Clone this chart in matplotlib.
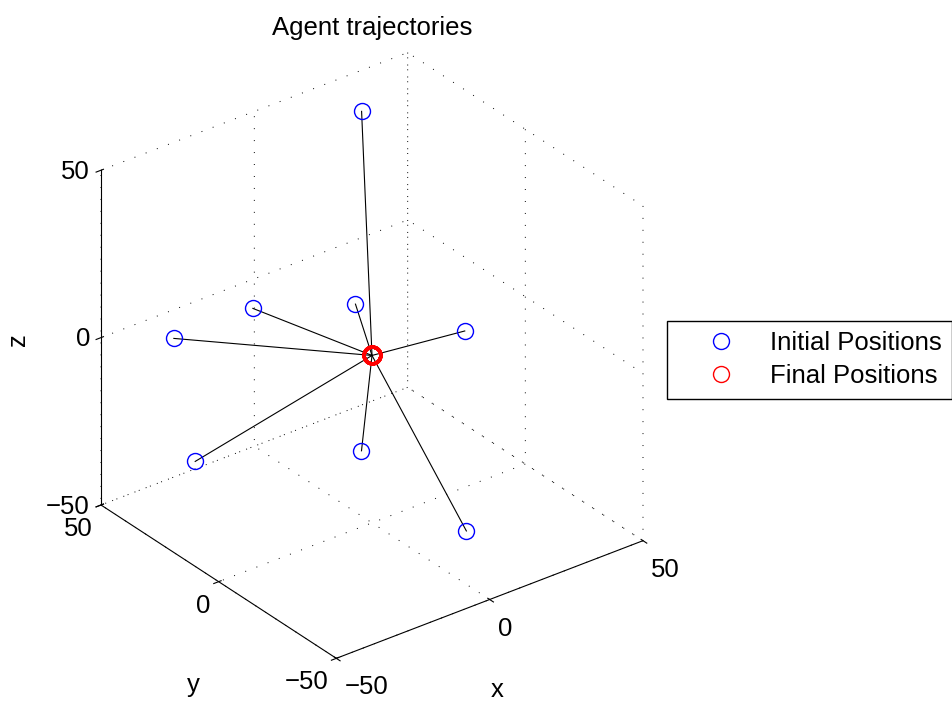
import matplotlib
matplotlib.use('Agg')
import matplotlib.pyplot as plt
from matplotlib.lines import Line2D
from mpl_toolkits.mplot3d import proj3d

# agent start points and where they all end up
init_x = [27.3, -14.9, 7.5, -35.3, 16.2, -43.3, -11.1, 1.0]
init_y = [40.0, 31.2, 16.8, 38.2, -18.3, 18.7, -10.0, -38.8]
init_z = [45.0, 5.0, 5.0, 0.0, 10.0, -25.0, -20.0, -35.0]
final_x = [0, 0, 0, 0, 0, 0, 0, 0]
final_y = [0, 0, 0, 0, 0, 0, 0, 0]
final_z = [0, 0, 0, 0, 0, 0, 0, 0]
ticks = [-50, 0, 50]

W, H = 953, 706

plt.rcParams['font.family'] = ['Liberation Sans', 'DejaVu Sans']
plt.rcParams['font.size'] = 18.5


def to_px(ax, x, y, z):
    xs, ys, _ = proj3d.proj_transform(x, y, z, ax.get_proj())
    return ax.transData.transform((xs, ys))


fig = plt.figure(figsize=(W / 100, H / 100), dpi=100)
ax = fig.add_axes([0.02, 0.02, 0.7, 0.95], projection='3d')
ax.set_proj_type('ortho')
ax.view_init(elev=30, azim=-127.5)
ax.set_box_aspect((1, 1, 1))
ax.computed_zorder = False

for axis in (ax.xaxis, ax.yaxis, ax.zaxis):
    axis.pane.fill = False
    axis.pane.set_edgecolor('none')
    axis._axinfo['grid']['color'] = 'k'
    axis._axinfo['grid']['linewidth'] = 0.7
    axis._axinfo['grid']['linestyle'] = (0, (1, 11.3))
    axis.line.set_linewidth(0.8)
    axis.line.set_color('k')

for i in range(len(init_x)):
    ax.plot([init_x[i], final_x[i]], [init_y[i], final_y[i]], [init_z[i], final_z[i]],
            '-', color='k', lw=0.8, zorder=1)
ax.plot(init_x, init_y, init_z, 'o', ls='none', mfc='none', mec='b',
        ms=11.5, mew=1.0, zorder=2)
ax.plot(final_x, final_y, final_z, 'o', ls='none', mfc='none', mec='r',
        ms=12, mew=2.5, zorder=3)

ax.set_xlim(-50, 50)
ax.set_ylim(-50, 50)
ax.set_zlim(-50, 50)
ax.set_xticks(ticks)
ax.set_yticks(ticks)
ax.set_zticks(ticks)
ax.tick_params(axis='x', pad=0.5)
ax.tick_params(axis='y', pad=-1.5)
ax.tick_params(axis='z', pad=-3)
plt.setp(ax.get_xticklabels(), ha='left')
plt.setp(ax.get_yticklabels(), ha='right')
plt.setp(ax.get_zticklabels(), ha='right', va='center_baseline')

# scale and move the axes so the box sits where it does in the original
fig.canvas.draw()
a = to_px(ax, -50, 50, -50)
b = to_px(ax, 50, -50, -50)
k = (643 - 101) / (b[0] - a[0])
p = ax.get_position(original=True)
cx, cy = p.x0 + p.width / 2, p.y0 + p.height / 2
ax.set_position([cx - p.width * k / 2, cy - p.height * k / 2, p.width * k, p.height * k])
fig.canvas.draw()
a = to_px(ax, -50, 50, -50)
p = ax.get_position(original=True)
ax.set_position([p.x0 + (101 - a[0]) / W, p.y0 + ((H - 505) - a[1]) / H, p.width, p.height])

fig.text(372 / W, 1 - 28 / H, 'Agent trajectories', ha='center', va='center')
fig.text(497 / W, 1 - 690 / H, 'x', ha='center', va='center')
fig.text(193 / W, 1 - 685 / H, 'y', ha='center', va='center')
fig.text(18 / W, 1 - 340 / H, 'z', ha='center', va='center', rotation=90)

handles = [Line2D([], [], ls='none', marker='o', mfc='none', mec='b', ms=11.5, mew=1.0),
           Line2D([], [], ls='none', marker='o', mfc='none', mec='r', ms=11.5, mew=1.0)]
leg = fig.legend(handles, ['Initial Positions', 'Final Positions'], loc='upper left',
                 bbox_to_anchor=(667 / W, 1 - 321 / H), borderaxespad=0,
                 fancybox=False, framealpha=1, edgecolor='k',
                 borderpad=0.4, handlelength=3.4, handletextpad=0.2,
                 labelspacing=0.35)
leg.get_frame().set_linewidth(1.0)

fig.savefig('out.png', dpi=100)
